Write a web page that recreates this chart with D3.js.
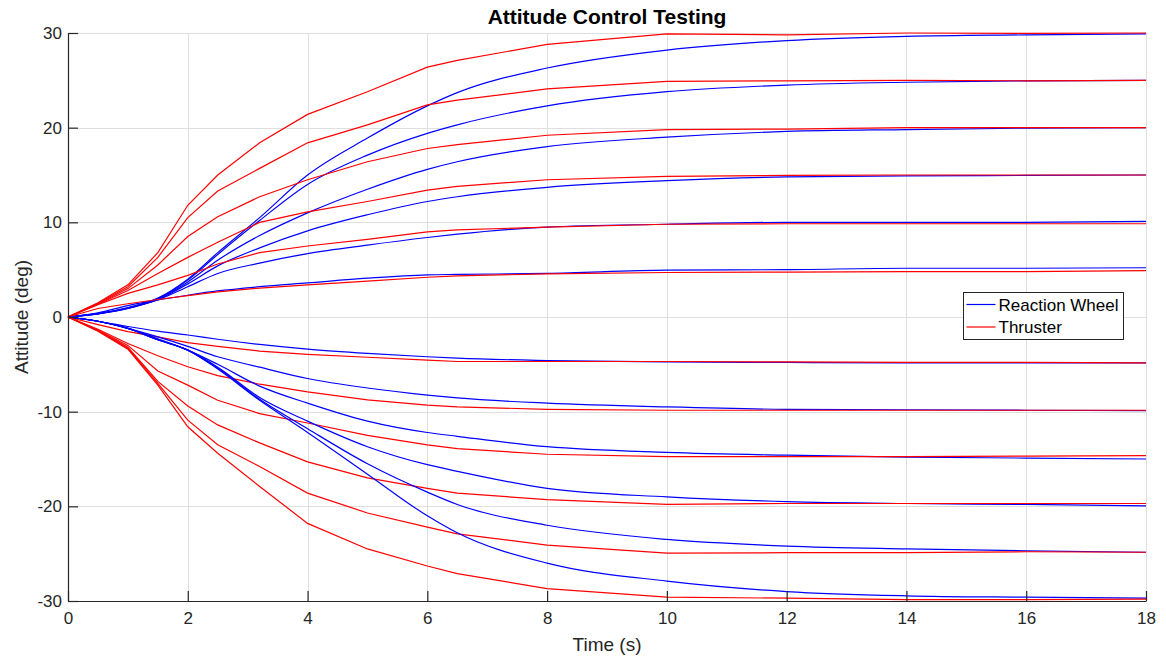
<!DOCTYPE html>
<html>
<head>
<meta charset="utf-8">
<script src="https://cdn.jsdelivr.net/npm/d3@7/dist/d3.min.js"></script>
<style>
  body { margin: 0; background: #fff; }
  text { font-family: "Liberation Sans", Arial, sans-serif; }
</style>
</head>
<body>
<svg id="chart" width="1166" height="657"></svg>
<script>
// Sample times (s) shared by every response
const time = [0, 0.5, 1, 1.5, 2, 2.5, 3.2, 4, 5, 6, 6.5, 8, 10, 12, 14, 16, 18];

// Reaction wheel responses (deg), one array per commanded attitude
const wheelP30 = [0, 0.35, 1.0, 2.0, 4.0, 6.8, 10.5, 15.0, 18.9, 22.3, 23.7, 26.3, 28.2, 29.2, 29.65, 29.8, 29.9];
const wheelP25 = [0, 0.35, 0.95, 1.95, 3.9, 6.6, 10.2, 14.0, 17.1, 19.4, 20.3, 22.3, 23.8, 24.5, 24.8, 24.95, 25.0];
const wheelP20 = [0, 0.33, 0.9, 1.9, 3.7, 6.0, 8.6, 11.0, 13.5, 15.6, 16.4, 18.0, 19.0, 19.6, 19.8, 19.95, 20.0];
const wheelP15 = [0, 0.33, 0.9, 1.85, 3.5, 5.4, 7.3, 9.1, 10.8, 12.2, 12.7, 13.7, 14.4, 14.8, 14.9, 14.95, 15.0];
const wheelP10 = [0, 0.35, 0.95, 1.8, 3.2, 4.6, 5.7, 6.7, 7.6, 8.4, 8.75, 9.5, 9.8, 10.0, 10.0, 10.0, 10.1];
const wheelP5  = [0, 0.45, 1.2, 1.8, 2.3, 2.75, 3.2, 3.6, 4.1, 4.45, 4.5, 4.6, 4.95, 5.0, 5.15, 5.15, 5.2];
const wheelM5  = [0, -0.45, -1.0, -1.5, -1.9, -2.35, -2.9, -3.4, -3.85, -4.2, -4.35, -4.6, -4.75, -4.8, -4.85, -4.85, -4.85];
const wheelM10 = [0, -0.45, -1.2, -2.1, -3.1, -4.2, -5.3, -6.5, -7.5, -8.25, -8.55, -9.1, -9.5, -9.75, -9.8, -9.85, -9.9];
const wheelM15 = [0, -0.45, -1.2, -2.3, -3.5, -5.0, -7.3, -9.1, -11.0, -12.2, -12.6, -13.7, -14.3, -14.6, -14.8, -14.9, -15.0];
const wheelM20 = [0, -0.45, -1.2, -2.4, -3.5, -5.3, -8.5, -11.0, -13.7, -15.6, -16.3, -18.1, -19.0, -19.5, -19.7, -19.8, -19.95];
const wheelM25 = [0, -0.45, -1.2, -2.4, -3.5, -5.4, -8.7, -11.8, -15.5, -18.5, -19.8, -22.0, -23.5, -24.2, -24.5, -24.7, -24.85];
const wheelM30 = [0, -0.45, -1.2, -2.4, -3.5, -5.5, -8.8, -12.2, -16.6, -21.0, -22.8, -26.0, -27.9, -29.0, -29.45, -29.6, -29.7];

// Thruster responses (deg)
const thrusterP30 = [0, 1.5, 3.4, 6.8, 11.8, 15.0, 18.4, 21.4, 23.8, 26.4, 27.1, 28.8, 29.9, 29.8, 30.0, 29.95, 30.0];
const thrusterP25 = [0, 1.45, 3.2, 6.3, 10.5, 13.3, 15.7, 18.4, 20.3, 22.4, 22.9, 24.1, 24.9, 24.95, 25.0, 24.95, 25.0];
const thrusterP20 = [0, 1.4, 3.0, 5.5, 8.5, 10.6, 12.7, 14.5, 16.4, 17.8, 18.2, 19.2, 19.8, 19.85, 20.0, 20.0, 20.0];
const thrusterP15 = [0, 1.35, 2.8, 4.6, 6.3, 7.9, 10.0, 11.1, 12.2, 13.4, 13.8, 14.5, 14.85, 14.95, 15.0, 15.0, 15.0];
const thrusterP10 = [0, 1.3, 2.5, 3.4, 4.4, 5.6, 6.8, 7.5, 8.2, 9.0, 9.2, 9.5, 9.8, 9.85, 9.85, 9.85, 9.85];
const thrusterP5  = [0, 0.9, 1.4, 1.85, 2.25, 2.65, 3.06, 3.4, 3.8, 4.2, 4.35, 4.55, 4.7, 4.75, 4.8, 4.8, 4.9];
const thrusterM5  = [0, -0.8, -1.55, -2.1, -2.7, -3.1, -3.6, -3.95, -4.25, -4.55, -4.7, -4.7, -4.7, -4.75, -4.8, -4.8, -4.85];
const thrusterM10 = [0, -1.3, -2.8, -4.1, -5.25, -6.2, -7.1, -7.9, -8.75, -9.3, -9.5, -9.75, -9.85, -9.85, -9.85, -9.85, -9.85];
const thrusterM15 = [0, -1.4, -3.0, -5.7, -7.2, -8.8, -10.2, -11.2, -12.5, -13.5, -13.9, -14.5, -14.75, -14.75, -14.75, -14.7, -14.65];
const thrusterM20 = [0, -1.4, -3.2, -6.8, -9.4, -11.4, -13.3, -15.3, -17.0, -18.1, -18.6, -19.3, -19.8, -19.7, -19.7, -19.7, -19.7];
const thrusterM25 = [0, -1.45, -3.3, -7.0, -10.9, -13.5, -15.8, -18.6, -20.7, -22.2, -22.9, -24.1, -24.95, -24.9, -24.9, -24.8, -24.85];
const thrusterM30 = [0, -1.5, -3.4, -7.2, -11.6, -14.4, -17.9, -21.8, -24.5, -26.3, -27.1, -28.7, -29.6, -29.7, -29.85, -29.85, -29.8];

const xTicks = [0, 2, 4, 6, 8, 10, 12, 14, 16, 18];
const yTicks = [-30, -20, -10, 0, 10, 20, 30];

const wheelRuns = [wheelP30, wheelP25, wheelP20, wheelP15, wheelP10, wheelP5,
                   wheelM5, wheelM10, wheelM15, wheelM20, wheelM25, wheelM30];
const thrusterRuns = [thrusterP30, thrusterP25, thrusterP20, thrusterP15, thrusterP10, thrusterP5,
                      thrusterM5, thrusterM10, thrusterM15, thrusterM20, thrusterM25, thrusterM30];

const svg = d3.select("#chart");
const plotLeft = 68, plotRight = 1146, plotTop = 33, plotBottom = 601;
const axisColor = "#262626";
const fontStack = "'Liberation Sans', Arial, sans-serif";

const x = d3.scaleLinear().domain([0, 18]).range([plotLeft, plotRight]);
const y = d3.scaleLinear().domain([-30, 30]).range([plotBottom, plotTop]);

// grid
const grid = svg.append("g").attr("stroke", "#dfdfdf").attr("stroke-width", 1);
grid.selectAll(".gx").data(xTicks).join("line")
  .attr("x1", d => Math.round(x(d)) + 0.5).attr("x2", d => Math.round(x(d)) + 0.5)
  .attr("y1", plotTop).attr("y2", plotBottom);
grid.selectAll(".gy").data(yTicks).join("line")
  .attr("y1", d => Math.round(y(d)) + 0.5).attr("y2", d => Math.round(y(d)) + 0.5)
  .attr("x1", plotLeft).attr("x2", plotRight);

// response curves
const wheelLine = d3.line().x((d, i) => x(time[i])).y(d => y(d)).curve(d3.curveMonotoneX);
const thrusterLine = d3.line().x((d, i) => x(time[i])).y(d => y(d)).curve(d3.curveLinear);

const curves = svg.append("g").attr("fill", "none").attr("stroke-width", 1.2);
wheelRuns.forEach((run, k) => {
  curves.append("path").attr("d", wheelLine(run)).attr("stroke", "#0000ff");
  curves.append("path").attr("d", thrusterLine(thrusterRuns[k])).attr("stroke", "#ff0000");
});

// axes (inward ticks, plain hyphen for negatives)
const xAxis = d3.axisBottom(x).tickValues(xTicks).tickFormat(d => String(d))
  .tickSizeInner(-10).tickSizeOuter(0).tickPadding(11);
const yAxis = d3.axisLeft(y).tickValues(yTicks).tickFormat(d => String(d))
  .tickSizeInner(-10).tickSizeOuter(0).tickPadding(6);

const gx = svg.append("g").attr("transform", `translate(0,${plotBottom})`).call(xAxis);
const gy = svg.append("g").attr("transform", `translate(${plotLeft},0)`).call(yAxis);
[gx, gy].forEach(g => {
  g.select(".domain").attr("stroke", axisColor).attr("stroke-width", 1.2);
  g.selectAll(".tick line").attr("stroke", axisColor).attr("stroke-width", 1.2);
  g.selectAll(".tick text").attr("fill", axisColor).style("font-size", "17px")
    .style("font-family", fontStack);
});

// title and axis labels
svg.append("text").attr("x", 607).attr("y", 24).attr("text-anchor", "middle")
  .style("font-size", "21px").style("font-weight", "bold").attr("fill", "#000")
  .text("Attitude Control Testing");
svg.append("text").attr("x", 607).attr("y", 651).attr("text-anchor", "middle")
  .style("font-size", "19px").attr("fill", axisColor).text("Time (s)");
svg.append("text").attr("transform", `translate(28,${(plotTop + plotBottom) / 2}) rotate(-90)`)
  .attr("text-anchor", "middle").style("font-size", "19px").attr("fill", axisColor)
  .text("Attitude (deg)");

// legend
const legend = svg.append("g").attr("transform", "translate(963.5,292.5)");
legend.append("rect").attr("width", 160).attr("height", 47)
  .attr("fill", "#fff").attr("stroke", axisColor).attr("stroke-width", 1);
const legendItems = [{ name: "Reaction Wheel", color: "#0000ff" }, { name: "Thruster", color: "#ff0000" }];
legendItems.forEach((item, i) => {
  const yy = 12 + i * 22.5;
  legend.append("line").attr("x1", 3).attr("x2", 32).attr("y1", yy).attr("y2", yy)
    .attr("stroke", item.color).attr("stroke-width", 1.2);
  legend.append("text").attr("x", 35).attr("y", yy + 6).style("font-size", "17px")
    .attr("fill", "#000").text(item.name);
});
</script>
</body>
</html>
